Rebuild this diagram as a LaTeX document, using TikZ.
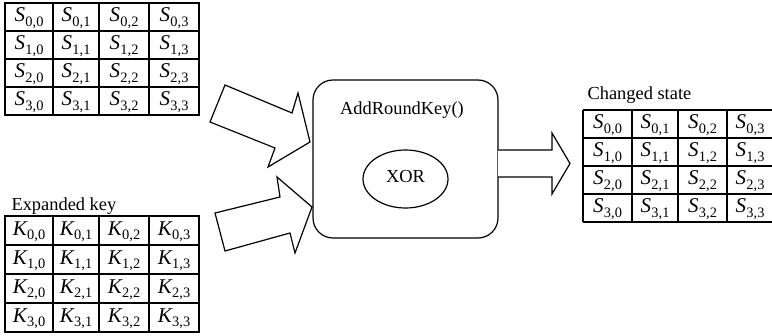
\documentclass[tikz,border=0pt]{standalone}
\usepackage{fontspec}
\setmainfont{Liberation Serif}
\usetikzlibrary{shapes.geometric}
\newcommand\tcs[3]{{\itshape #1}\kern0.2pt\raisebox{-0.45ex}{\fontsize{7.2}{8}\selectfont #2,#3}}
\begin{document}
\begin{tikzpicture}[x=0.5pt,y=-0.5pt,line width=0.55pt,
  cellt/.style={inner sep=0pt,yshift=-0.6pt,font=\fontsize{10.5}{12}\selectfont},
  lbl/.style={inner sep=0pt,font=\fontsize{9.2}{11}\selectfont},
  blockarrow/.style={draw,line width=0.6pt,line join=miter,fill=white},
  procbox/.style={draw,line width=0.6pt,rounded corners=10pt,minimum width=92.5pt,minimum height=79pt,inner sep=0pt},
  xorell/.style={draw,line width=0.6pt,ellipse,minimum width=42.5pt,minimum height=29pt,inner sep=0pt}]
\useasboundingbox (0,0) rectangle (772,336);
% state table
\draw (5,3) rectangle (199,115);
\foreach \x in {53,99,149} \draw (\x,3) -- (\x,115);
\foreach \y in {31,59,87} \draw (5,\y) -- (199,\y);
\foreach \c/\x in {0/29,1/76,2/124,3/174}
  \foreach \r/\y in {0/17,1/45,2/73,3/101}
    \node[cellt] (s\r\c) at (\x,\y) {\tcs{S}{\r}{\c}};
% key table
\node[lbl,anchor=base west] (keylbl) at (11,211) {Expanded key};
\draw (5,216) rectangle (199,332);
\foreach \x in {53,99,149} \draw (\x,216) -- (\x,332);
\foreach \y in {245,274,303} \draw (5,\y) -- (199,\y);
\foreach \c/\x in {0/29,1/76,2/124,3/174}
  \foreach \r/\y in {0/230.5,1/259.5,2/288.5,3/317.5}
    \node[cellt] (k\r\c) at (\x,\y) {\tcs{K}{\r}{\c}};
% changed state table
\node[lbl,anchor=base west] (chlbl) at (587,100) {Changed state};
\foreach \x in {583,632,678,727} \draw (\x,110) -- (\x,222);
\foreach \y in {110,138,166,194,222} \draw (583,\y) -- (780,\y);
\foreach \c/\x in {0/607.5,1/655,2/702.5,3/750}
  \foreach \r/\y in {0/124,1/152,2/180,3/208}
    \node[cellt] (c\r\c) at (\x,\y) {\tcs{S}{\r}{\c}};
% process box
\node[procbox] (ark) at (405.5,159) {};
\node[lbl,anchor=base] (arklbl) at (402,115) {AddRoundKey()};
\node[xorell] (xor) at (405.5,179) {};
\node[lbl,anchor=base] (xorlbl) at (405.5,183) {XOR};
% block arrows
\draw[blockarrow] (225,85) -- (292,113) -- (298,93) -- (310,142) -- (268,167) -- (275,148) -- (210,122) -- cycle;
\draw[blockarrow] (215,213) -- (280,197) -- (277,177) -- (312,207) -- (295,253) -- (290,233) -- (225,251) -- cycle;
\draw[blockarrow] (498,150) -- (552,150) -- (552,133) -- (570,163.5) -- (552,194) -- (552,177) -- (498,177);
\end{tikzpicture}
\end{document}
